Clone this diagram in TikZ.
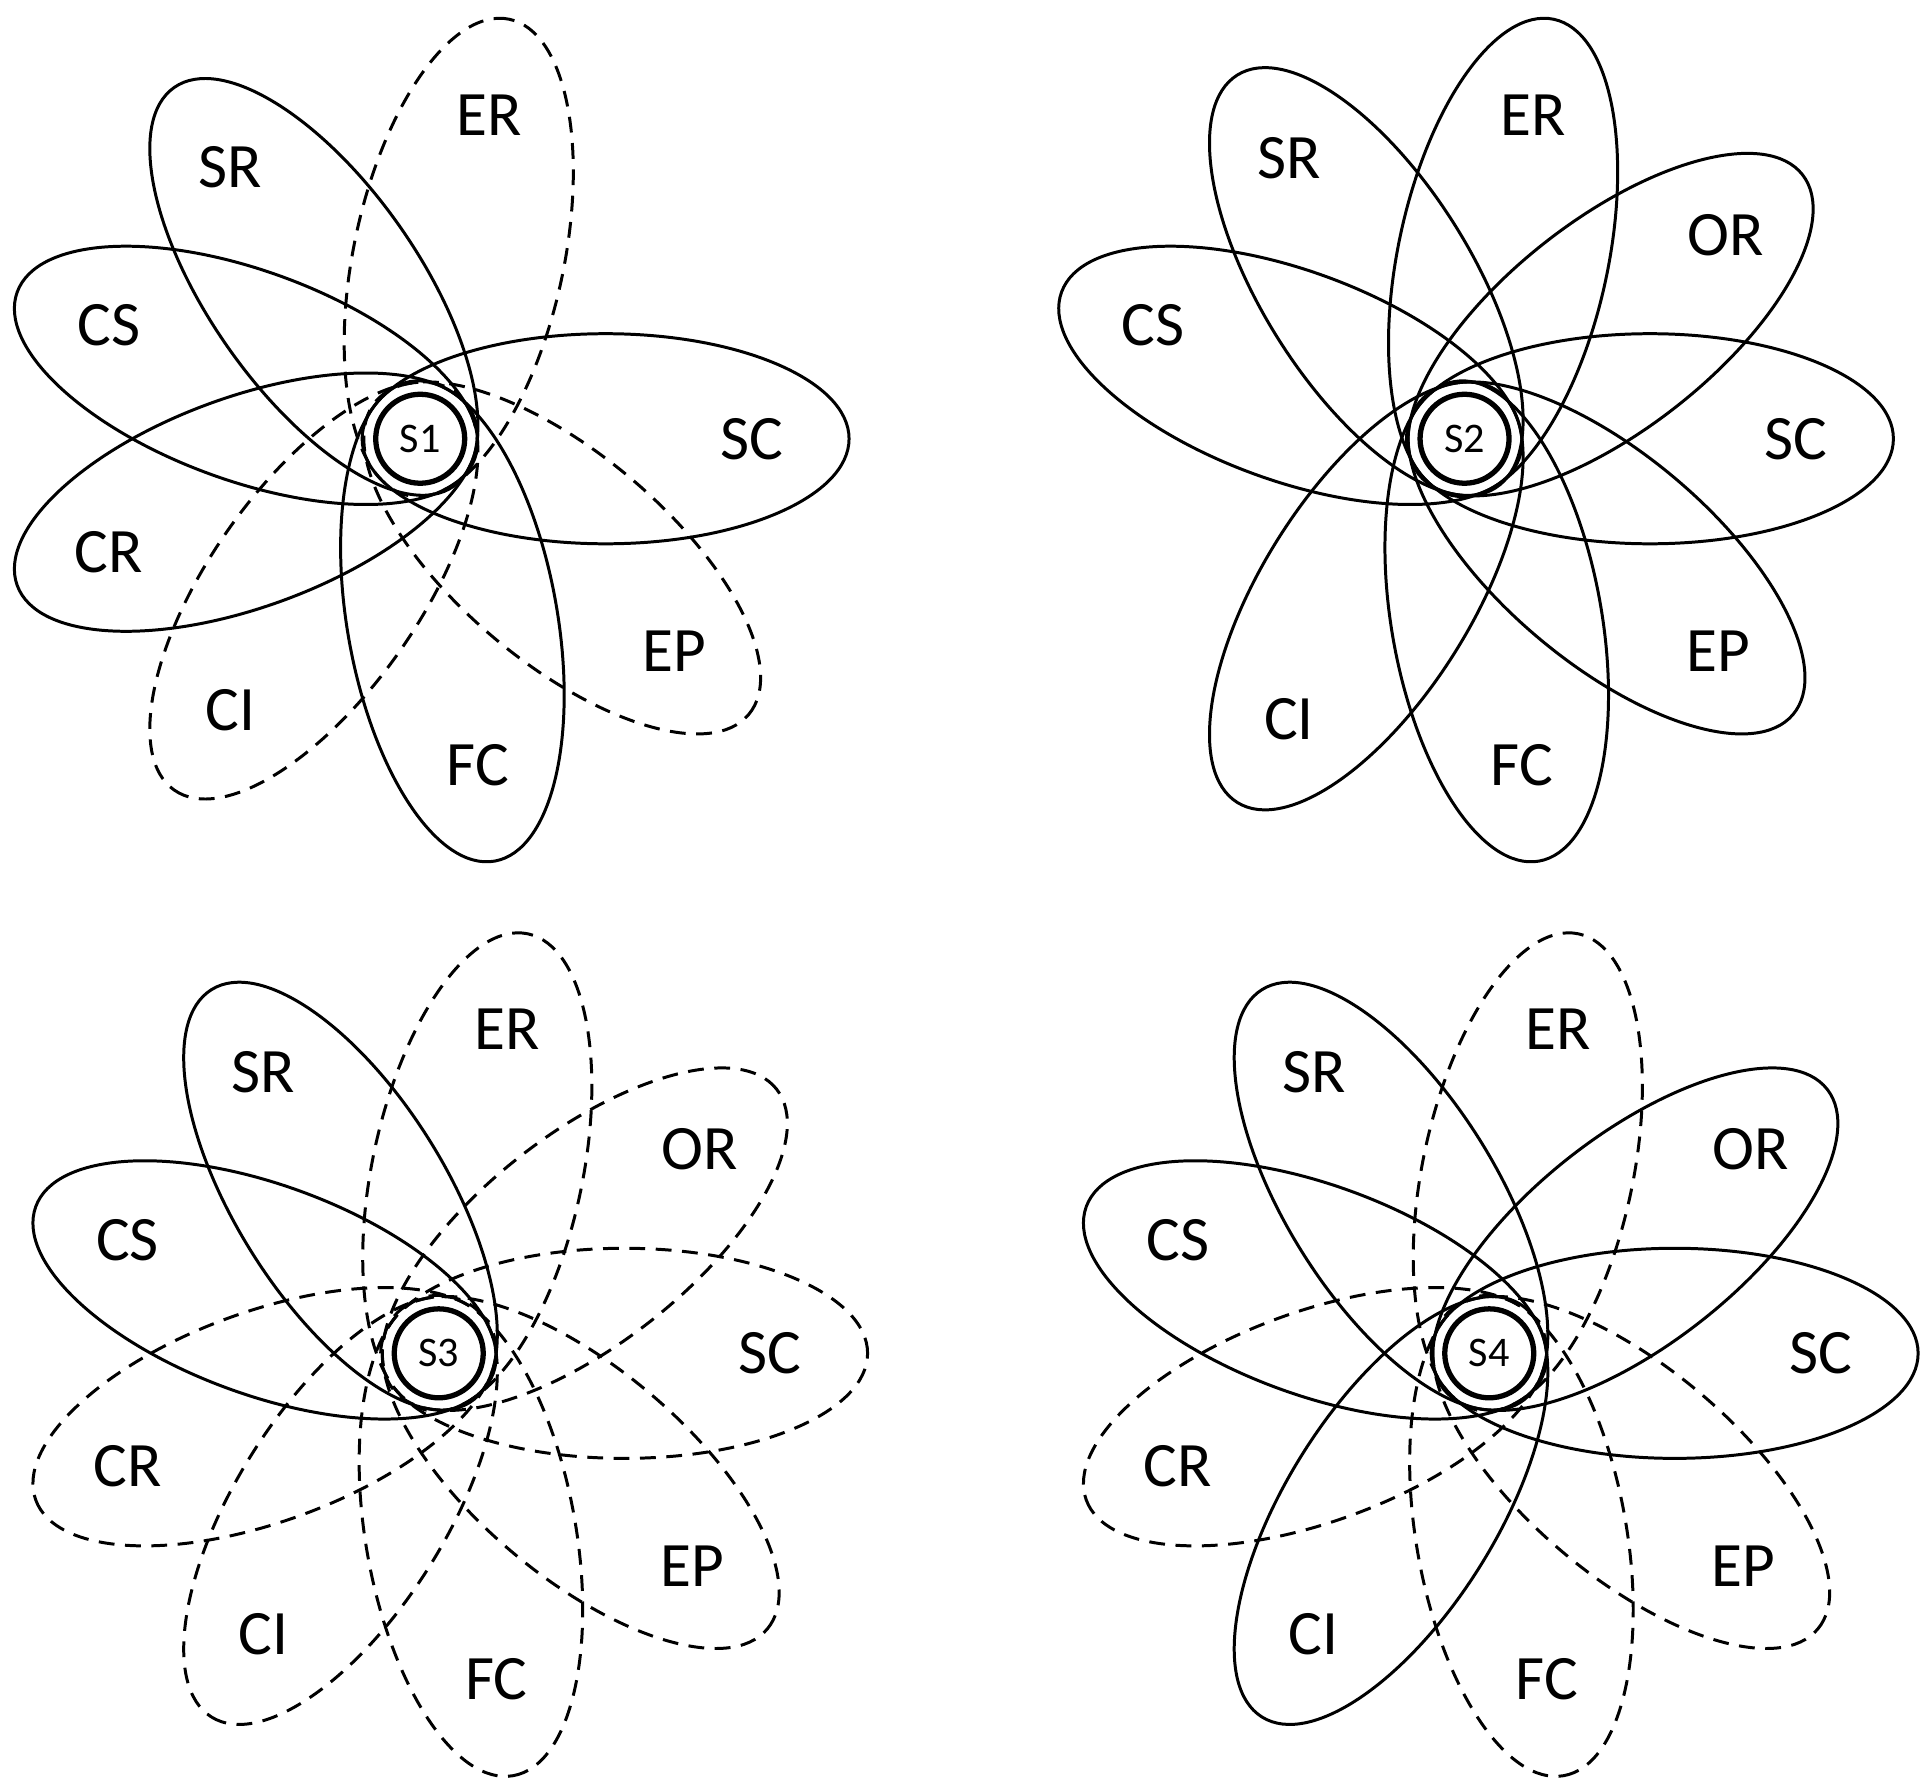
\documentclass[tikz,border=0pt]{standalone}
\usepackage{fontspec}
\setmainfont{Carlito}
\begin{document}
\begin{tikzpicture}[x=0.02472cm,y=0.02472cm,
  sol/.style={line width=1.7pt},
  dsh/.style={line width=1.7pt,dash pattern=on 9pt off 6pt},
  lab/.style={font=\fontsize{36}{40}\selectfont},
  hub/.style={circle,draw,line width=3pt,fill=white,minimum size=72*0.02472cm,inner sep=0pt,font=\fontsize{24}{26}\selectfont}]
\useasboundingbox (0,0) rectangle (1560,-1447.5);
\newcommand\mypetal[6]{%
  \begin{scope}[shift={(#1,#2)},rotate=#3]
    \draw[#4] (150,0) ellipse [x radius=197,y radius=85];
    \node[lab] (#6) at (268,0) {#5};
  \end{scope}}
% S1
\mypetal{340}{-355}{0}{sol}{SC}{a1}
\mypetal{340}{-355}{-80}{sol}{FC}{a2}
\mypetal{340}{-355}{125}{sol}{SR}{a3}
\mypetal{340}{-355}{160}{sol}{CS}{a4}
\mypetal{340}{-355}{200}{sol}{CR}{a5}
\mypetal{340}{-355}{78}{dsh}{ER}{a6}
\mypetal{340}{-355}{-40}{dsh}{EP}{a7}
\mypetal{340}{-355}{-125}{dsh}{CI}{a8}
\node[hub] (s1) at (340,-355) {S1};
% S2
\mypetal{1185}{-355}{0}{sol}{SC}{b1}
\mypetal{1185}{-355}{-80}{sol}{FC}{b2}
\mypetal{1185}{-355}{122}{sol}{SR}{b3}
\mypetal{1185}{-355}{160}{sol}{CS}{b4}
\mypetal{1185}{-355}{78}{sol}{ER}{b5}
\mypetal{1185}{-355}{38}{sol}{OR}{b6}
\mypetal{1185}{-355}{-40}{sol}{EP}{b7}
\mypetal{1185}{-355}{-122}{sol}{CI}{b8}
\node[hub] (s2) at (1185,-355) {S2};
% S3
\mypetal{355}{-1095}{0}{dsh}{SC}{c1}
\mypetal{355}{-1095}{-80}{dsh}{FC}{c2}
\mypetal{355}{-1095}{78}{dsh}{ER}{c5}
\mypetal{355}{-1095}{38}{dsh}{OR}{c6}
\mypetal{355}{-1095}{-40}{dsh}{EP}{c7}
\mypetal{355}{-1095}{-122}{dsh}{CI}{c8}
\mypetal{355}{-1095}{200}{dsh}{CR}{c9}
\mypetal{355}{-1095}{122}{sol}{SR}{c3}
\mypetal{355}{-1095}{160}{sol}{CS}{c4}
\node[hub] (s3) at (355,-1095) {S3};
% S4
\mypetal{1205}{-1095}{-80}{dsh}{FC}{d2}
\mypetal{1205}{-1095}{78}{dsh}{ER}{d5}
\mypetal{1205}{-1095}{-40}{dsh}{EP}{d7}
\mypetal{1205}{-1095}{200}{dsh}{CR}{d9}
\mypetal{1205}{-1095}{0}{sol}{SC}{d1}
\mypetal{1205}{-1095}{38}{sol}{OR}{d6}
\mypetal{1205}{-1095}{-122}{sol}{CI}{d8}
\mypetal{1205}{-1095}{122}{sol}{SR}{d3}
\mypetal{1205}{-1095}{160}{sol}{CS}{d4}
\node[hub] (s4) at (1205,-1095) {S4};
\end{tikzpicture}
\end{document}
